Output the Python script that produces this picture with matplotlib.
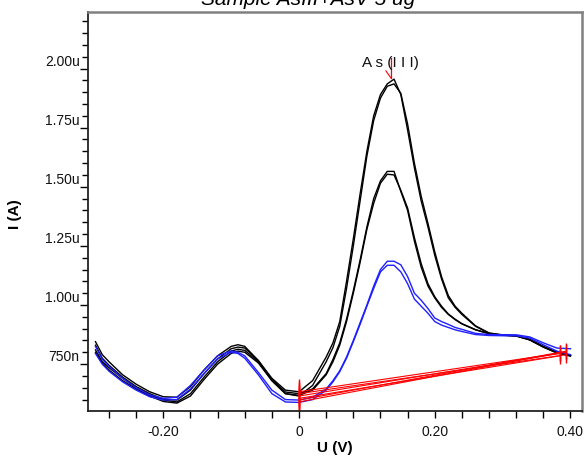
import numpy as np
import matplotlib
matplotlib.use("Agg")
import matplotlib.pyplot as plt
from matplotlib.ticker import FixedLocator, MultipleLocator

plt.rcParams['font.family'] = ['Liberation Sans', 'DejaVu Sans']

# Potential grid (V)
U = [-0.30, -0.29, -0.28, -0.26, -0.24, -0.22, -0.20, -0.18, -0.16, -0.14, -0.12, -0.10,
     -0.09, -0.08, -0.06, -0.04, -0.02,
     0.00, 0.02, 0.04, 0.05, 0.06, 0.07, 0.08, 0.09, 0.10, 0.11, 0.12,
     0.13, 0.14, 0.15, 0.16, 0.17, 0.18, 0.19, 0.20, 0.21, 0.22, 0.23, 0.24, 0.26, 0.28,
     0.30, 0.32, 0.34, 0.36, 0.38, 0.40]

# Currents (uA)
black_1 = [0.845, 0.79, 0.76, 0.705, 0.665, 0.633, 0.612, 0.610, 0.655, 0.725, 0.785, 0.825,
           0.832, 0.825, 0.765, 0.69, 0.64,
           0.633, 0.68, 0.78, 0.84, 0.93, 1.10, 1.28, 1.47, 1.65, 1.80, 1.89,
           1.935, 1.955, 1.89, 1.74, 1.58, 1.44, 1.33, 1.21, 1.11, 1.03, 0.99, 0.96, 0.91, 0.88,
           0.874, 0.870, 0.855, 0.825, 0.800, 0.787]
black_2 = [0.80, 0.755, 0.725, 0.68, 0.645, 0.615, 0.592, 0.585, 0.615, 0.685, 0.75, 0.795,
           0.805, 0.80, 0.755, 0.68, 0.625,
           0.615, 0.66, 0.76, 0.82, 0.91, 1.07, 1.25, 1.44, 1.63, 1.78, 1.875,
           1.925, 1.935, 1.895, 1.765, 1.60, 1.46, 1.345, 1.225, 1.12, 1.04, 0.995, 0.965, 0.912, 0.882,
           0.873, 0.869, 0.852, 0.822, 0.797, 0.784]
black_3 = [0.83, 0.775, 0.745, 0.695, 0.655, 0.625, 0.602, 0.598, 0.64, 0.71, 0.772, 0.815,
           0.822, 0.818, 0.765, 0.685, 0.632,
           0.625, 0.645, 0.71, 0.77, 0.84, 0.94, 1.06, 1.19, 1.33, 1.45, 1.525,
           1.565, 1.565, 1.48, 1.40, 1.27, 1.16, 1.08, 1.03, 0.99, 0.96, 0.938, 0.92, 0.895, 0.878,
           0.872, 0.870, 0.854, 0.824, 0.800, 0.787]
black_4 = [0.81, 0.76, 0.735, 0.69, 0.65, 0.62, 0.598, 0.59, 0.625, 0.695, 0.76, 0.805,
           0.813, 0.808, 0.76, 0.68, 0.625,
           0.618, 0.64, 0.705, 0.76, 0.83, 0.93, 1.05, 1.18, 1.32, 1.43, 1.515,
           1.553, 1.55, 1.485, 1.41, 1.285, 1.175, 1.09, 1.035, 0.995, 0.962, 0.94, 0.921, 0.896, 0.879,
           0.872, 0.869, 0.853, 0.822, 0.798, 0.785]
blue_1 = [0.825, 0.77, 0.74, 0.69, 0.65, 0.62, 0.605, 0.61, 0.66, 0.725, 0.785, 0.806,
          0.80, 0.785, 0.715, 0.64, 0.60,
          0.598, 0.61, 0.645, 0.68, 0.722, 0.78, 0.85, 0.925, 1.00, 1.08, 1.15,
          1.185, 1.185, 1.17, 1.12, 1.05, 1.02, 0.985, 0.945, 0.93, 0.918, 0.905, 0.897, 0.88, 0.875,
          0.874, 0.874, 0.865, 0.840, 0.818, 0.815]
blue_2 = [0.795, 0.75, 0.72, 0.675, 0.64, 0.612, 0.598, 0.60, 0.645, 0.71, 0.772, 0.80,
          0.795, 0.775, 0.705, 0.625, 0.59,
          0.588, 0.60, 0.64, 0.675, 0.718, 0.775, 0.845, 0.918, 0.995, 1.07, 1.14,
          1.168, 1.168, 1.14, 1.09, 1.025, 0.995, 0.965, 0.93, 0.915, 0.905, 0.895, 0.888, 0.875, 0.871,
          0.870, 0.870, 0.860, 0.832, 0.805, 0.790]

curves = [(black_1, 'black'), (black_2, 'black'), (black_3, 'black'), (black_4, 'black'),
          (blue_1, '#1f1fff'), (blue_2, '#1f1fff')]

# Baselines (red): start/end potential and current
base_u0 = [0.0, 0.0, 0.0, 0.0, 0.0, 0.0]
base_i0 = [0.633, 0.615, 0.625, 0.605, 0.598, 0.590]
base_u1 = [0.394, 0.384, 0.394, 0.384, 0.394, 0.384]
base_i1 = [0.800, 0.795, 0.790, 0.785, 0.805, 0.798]

# Peak label
peak_u = 0.136
peak_i = 1.958

y_ticks = [0.75, 1.00, 1.25, 1.50, 1.75, 2.00]
y_tick_labels = ['750n', '1.00u', '1.25u', '1.50u', '1.75u', '2.00u']
x_ticks = [-0.20, 0.0, 0.20, 0.40]
x_tick_labels = ['-0.20', '0', '0.20', '0.40']

W, H = 585, 457
fig = plt.figure(figsize=(W / 100, H / 100), dpi=100)
ax = fig.add_axes([88 / W, 1 - 410.7 / H, (582 - 88) / W, (410.7 - 12) / H])

for ys, c in curves:
    ax.plot(U, ys, color=c, lw=1.0, solid_joinstyle='round')

for u0, i0, u1, i1 in zip(base_u0, base_i0, base_u1, base_i1):
    ax.plot([u0, u1], [i0, i1], color='red', lw=0.8)
    ax.plot([u0], [i0], marker='|', ms=19, mew=1.0, color='red', ls='none')
    ax.plot([u1], [i1], marker='|', ms=12, mew=1.0, color='red', ls='none')

ax.plot([peak_u, peak_u], [peak_i, peak_i + 0.088], color='red', lw=0.9)
ax.plot([peak_u - 0.008, peak_u], [peak_i + 0.032, peak_i], color='red', lw=0.8)
ax.text(peak_u - 0.002, peak_i + 0.05, 'A s (I I I)', ha='center', va='baseline',
        fontsize=11, color='#111111')

ax.set_xlim(-0.311, 0.417)
ax.set_ylim(0.553, 2.239)

ax.xaxis.set_major_locator(FixedLocator(x_ticks))
ax.set_xticklabels(x_tick_labels)
ax.xaxis.set_minor_locator(MultipleLocator(0.04))
ax.yaxis.set_major_locator(FixedLocator(y_ticks))
ax.set_yticklabels(y_tick_labels)
ax.yaxis.set_minor_locator(MultipleLocator(0.05))

ax.tick_params(axis='both', which='both', direction='out', color='black', width=1.0,
               labelsize=10, labelcolor='#111111')
ax.tick_params(axis='y', which='major', length=6, pad=0)
ax.tick_params(axis='y', which='minor', length=4)
ax.tick_params(axis='x', which='major', length=5, pad=5)
ax.tick_params(axis='x', which='minor', length=5)
for lab in ax.get_yticklabels():
    lab.set_verticalalignment('bottom')

for s in ['left', 'bottom']:
    ax.spines[s].set_color('#222222')
    ax.spines[s].set_linewidth(1.3)
for s in ['top', 'right']:
    ax.spines[s].set_color('#808080')
    ax.spines[s].set_linewidth(1.8)

fig.text(335 / W, 1 - 448 / H, 'U (V)', ha='center', va='center', fontsize=11,
         fontweight='bold')
fig.text(15 / W, 1 - 214 / H, 'I (A)', ha='center', va='center', fontsize=11,
         fontweight='bold', rotation=90)
fig.text(308.5 / W, 1 - 5 / H, 'Sample AsIII+AsV 5 ug', ha='center', va='baseline',
         fontsize=15, fontstyle='italic')

fig.savefig('out.png', dpi=100)
